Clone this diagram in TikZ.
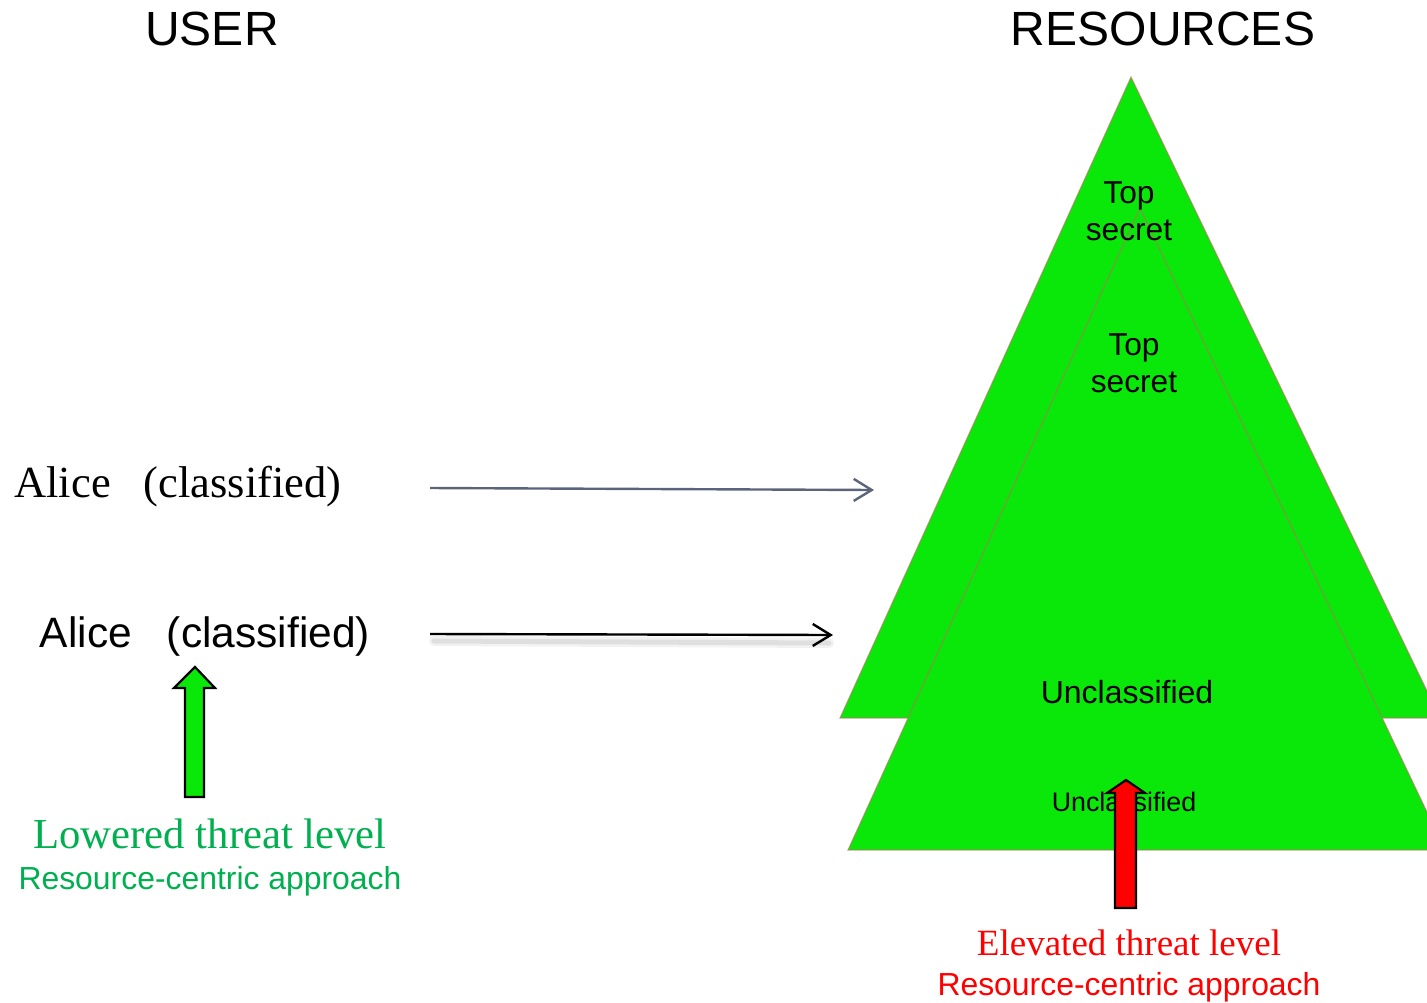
\documentclass[tikz,border=0pt]{standalone}
\usepackage{fontspec}
\setmainfont{Liberation Serif}
\setsansfont{Liberation Sans}
\usetikzlibrary{arrows.meta}
\definecolor{treegreen}{RGB}{10,232,10}
\definecolor{edgepink}{RGB}{200,100,100}
\definecolor{slate}{RGB}{91,100,120}
\definecolor{lowgreen}{RGB}{0,176,80}
\definecolor{elevred}{RGB}{255,0,0}
\tikzset{
  lbl/.style={anchor=base,inner sep=0pt,font=\sffamily},
  tree/.style={fill=treegreen,draw=edgepink,draw opacity=0.55,line width=1.2pt,line join=miter},
  blockarrow/.style={draw=black,line width=2.2pt,line join=miter},
  flow/.style={line width=2.4pt,-{Straight Barb[length=18pt,width=22pt,line width=2.4pt]}},
}
\begin{document}
\begin{tikzpicture}[x=1pt,y=-1pt]
\useasboundingbox (0,0) rectangle (1427,1002);
\clip (0,0) rectangle (1427,1002);
% trees
\draw[tree] (1131,77) -- (840,718) -- (1440,718) -- cycle;
\draw[tree] (1140,208) -- (848,850) -- (1445,850) -- cycle;
% headers
\node[lbl,font=\sffamily\fontsize{48}{52}\selectfont] (user) at (212,45) {USER};
\node[lbl,font=\sffamily\fontsize{48}{52}\selectfont] (resources) at (1163,45) {RESOURCES};
% tree labels
\node[lbl,font=\sffamily\fontsize{31.7}{37}\selectfont] (ts1a) at (1129,203) {Top};
\node[lbl,font=\sffamily\fontsize{31.7}{37}\selectfont] (ts1b) at (1129,240) {secret};
\node[lbl,font=\sffamily\fontsize{31.7}{37}\selectfont] (ts2a) at (1134,355) {Top};
\node[lbl,font=\sffamily\fontsize{31.7}{37}\selectfont] (ts2b) at (1134,392) {secret};
\node[lbl,font=\sffamily\fontsize{32}{37}\selectfont] (uncl1) at (1127,703) {Unclassified};
\node[lbl,font=\sffamily\fontsize{26.8}{30}\selectfont] (uncl2) at (1124,811) {Unclassified};
% users
\node[lbl,font=\rmfamily\fontsize{44.5}{48}\selectfont] (alice1) at (178,497) {Alice\hspace{33pt}(classified)};
\node[lbl,font=\sffamily\fontsize{42.5}{46}\selectfont] (alice2) at (205,647) {Alice\hspace{35pt}(classified)};
% connectors
\coordinate (g1) at (430,488);
\coordinate (g2) at (874,490);
\coordinate (b1) at (430,634);
\coordinate (b2) at (833,635);
\draw[flow,draw=slate] (g1) -- (g2);
\draw[line width=10pt,black,opacity=0.05,line cap=round] ([xshift=4pt,yshift=-7pt]b1) -- ([xshift=-4pt,yshift=-8pt]b2);
\draw[line width=5pt,black,opacity=0.08,line cap=round] ([xshift=4pt,yshift=-7pt]b1) -- ([xshift=-4pt,yshift=-8pt]b2);
\draw[flow,draw=black] (b1) -- (b2);
% block arrows
\draw[blockarrow,fill=treegreen] (185,797) -- (185,688) -- (174,688) -- (195,667) -- (215,688) -- (204,688) -- (204,797) -- cycle;
\draw[blockarrow,fill=elevred] (1115,908) -- (1115,793) -- (1107,793) -- (1126,780) -- (1145,793) -- (1136,793) -- (1136,908) -- cycle;
% threat labels
\node[lbl,font=\rmfamily\fontsize{42.7}{46}\selectfont,text=lowgreen] (low1) at (210,848) {Lowered threat level};
\node[lbl,font=\sffamily\fontsize{31.9}{35}\selectfont,text=lowgreen] (low2) at (210,889) {Resource-centric approach};
\node[lbl,font=\rmfamily\fontsize{37}{41}\selectfont,text=elevred] (elev1) at (1129,955) {Elevated threat level};
\node[lbl,font=\sffamily\fontsize{31.9}{35}\selectfont,text=elevred] (elev2) at (1129,995) {Resource-centric approach};
\end{tikzpicture}
\end{document}
